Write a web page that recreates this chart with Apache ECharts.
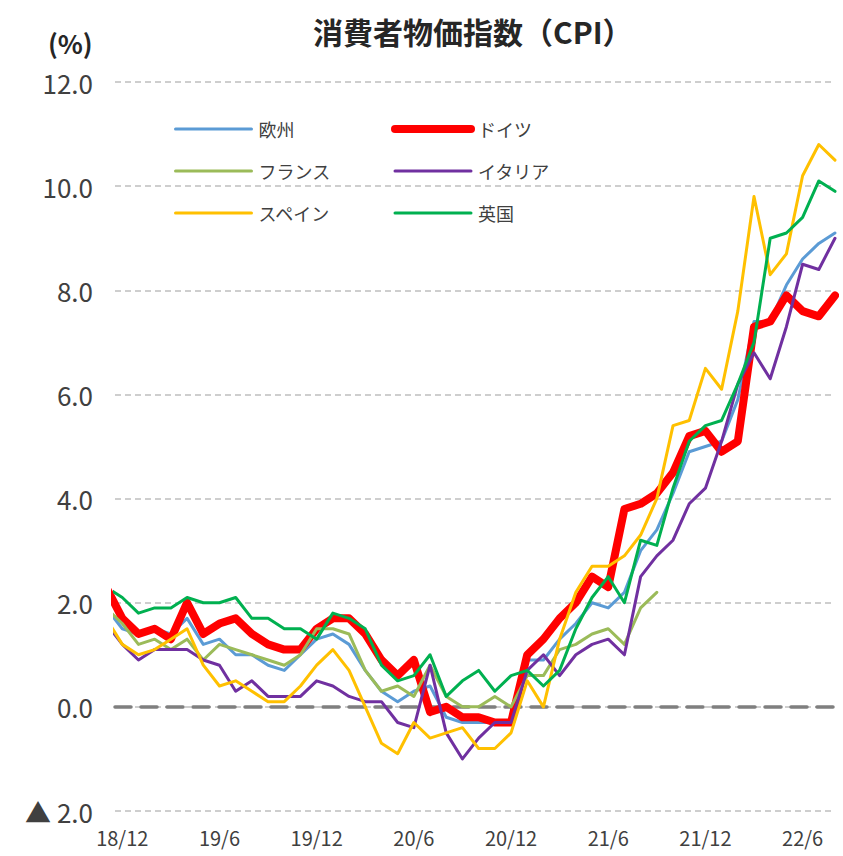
<!DOCTYPE html>
<html lang="ja">
<head>
<meta charset="utf-8">
<title>消費者物価指数（CPI）</title>
<script src="https://cdn.jsdelivr.net/npm/echarts/dist/echarts.min.js"></script>
<style>
  html, body { margin: 0; padding: 0; background: #fff; }
  #chart { width: 843px; height: 856px; }
</style>
</head>
<body>
<div id="chart"></div>
<script>
// 前年同月比（%）、18/11 は左端で切れている
const months = [
  '18/11', '18/12',
  '19/1', '19/2', '19/3', '19/4', '19/5', '19/6', '19/7', '19/8', '19/9', '19/10', '19/11', '19/12',
  '20/1', '20/2', '20/3', '20/4', '20/5', '20/6', '20/7', '20/8', '20/9', '20/10', '20/11', '20/12',
  '21/1', '21/2', '21/3', '21/4', '21/5', '21/6', '21/7', '21/8', '21/9', '21/10', '21/11', '21/12',
  '22/1', '22/2', '22/3', '22/4', '22/5', '22/6', '22/7', '22/8',
]

const euro = [1.9, 1.5,
  1.4, 1.5, 1.4, 1.7, 1.2, 1.3, 1.0, 1.0, 0.8, 0.7, 1.0, 1.3,
  1.4, 1.2, 0.7, 0.3, 0.1, 0.3, 0.4, -0.2, -0.3, -0.3, -0.3, -0.3,
  0.9, 0.9, 1.3, 1.6, 2.0, 1.9, 2.2, 3.0, 3.4, 4.1, 4.9, 5.0,
  5.1, 5.9, 7.4, 7.4, 8.1, 8.6, 8.9, 9.1]
const germany = [2.3, 1.7,
  1.4, 1.5, 1.3, 2.0, 1.4, 1.6, 1.7, 1.4, 1.2, 1.1, 1.1, 1.5,
  1.7, 1.7, 1.4, 0.9, 0.6, 0.9, -0.1, 0.0, -0.2, -0.2, -0.3, -0.3,
  1.0, 1.3, 1.7, 2.0, 2.5, 2.3, 3.8, 3.9, 4.1, 4.5, 5.2, 5.3,
  4.9, 5.1, 7.3, 7.4, 7.9, 7.6, 7.5, 7.9]
const france = [1.9, 1.6,
  1.2, 1.3, 1.1, 1.3, 0.9, 1.2, 1.1, 1.0, 0.9, 0.8, 1.0, 1.5,
  1.5, 1.4, 0.7, 0.3, 0.4, 0.2, 0.8, 0.2, 0.0, 0.0, 0.2, 0.0,
  0.6, 0.6, 1.1, 1.2, 1.4, 1.5, 1.2, 1.9, 2.2, null, null, null,
  null, null, null, null, null, null, null, null]
const italy = [1.6, 1.2,
  0.9, 1.1, 1.1, 1.1, 0.9, 0.8, 0.3, 0.5, 0.2, 0.2, 0.2, 0.5,
  0.4, 0.2, 0.1, 0.1, -0.3, -0.4, 0.8, -0.5, -1.0, -0.6, -0.3, -0.3,
  0.7, 1.0, 0.6, 1.0, 1.2, 1.3, 1.0, 2.5, 2.9, 3.2, 3.9, 4.2,
  5.1, 6.2, 6.8, 6.3, 7.3, 8.5, 8.4, 9.0]
const spain = [1.7, 1.2,
  1.0, 1.1, 1.3, 1.5, 0.8, 0.4, 0.5, 0.3, 0.1, 0.1, 0.4, 0.8,
  1.1, 0.7, 0.0, -0.7, -0.9, -0.3, -0.6, -0.5, -0.4, -0.8, -0.8, -0.5,
  0.5, 0.0, 1.3, 2.2, 2.7, 2.7, 2.9, 3.3, 4.0, 5.4, 5.5, 6.5,
  6.1, 7.6, 9.8, 8.3, 8.7, 10.2, 10.8, 10.5]
const uk = [2.3, 2.1,
  1.8, 1.9, 1.9, 2.1, 2.0, 2.0, 2.1, 1.7, 1.7, 1.5, 1.5, 1.3,
  1.8, 1.7, 1.5, 0.8, 0.5, 0.6, 1.0, 0.2, 0.5, 0.7, 0.3, 0.6,
  0.7, 0.4, 0.7, 1.5, 2.1, 2.5, 2.0, 3.2, 3.1, 4.2, 5.1, 5.4,
  5.5, 6.2, 7.0, 9.0, 9.1, 9.4, 10.1, 9.9]

const yTickLabels = ['▲ 2.0', '0.0', '2.0', '4.0', '6.0', '8.0', '10.0', '12.0']
const yMin = -2, yMax = 12, yStep = 2

const C = { grid: '#bfbfbf', zero: '#7f7f7f', text: '#404040', title: '#262626' }
const FONT = '"Noto Sans CJK JP", "Noto Sans", sans-serif'

const seriesDefs = [
  { name: '欧州',     data: euro,    color: '#5b9bd5', width: 3 },
  { name: 'ドイツ',   data: germany, color: '#ff0000', width: 8 },
  { name: 'フランス', data: france,  color: '#9bbb59', width: 3 },
  { name: 'イタリア', data: italy,   color: '#7030a0', width: 3 },
  { name: 'スペイン', data: spain,   color: '#ffc000', width: 3 },
  { name: '英国',     data: uk,      color: '#00b050', width: 3 },
]

// 半年ごとの目盛り（x/6, x/12）
const labelIdx = months
  .map((m, i) => (m.endsWith('/6') || m.endsWith('/12')) ? i : -1)
  .filter(i => i >= 0)

function legendBlock(names, left) {
  return {
    orient: 'vertical',
    left, top: 115,
    itemWidth: 76, itemHeight: 14, itemGap: 24,
    itemStyle: { opacity: 0 },          // 線だけ、丸マーカーなし
    lineStyle: { width: 'inherit' },    // 系列の線幅をそのまま
    textStyle: { color: C.text, fontSize: 18, fontFamily: FONT, padding: [0, 0, 0, 2] },
    data: names,
  }
}

function buildOption() {
  const xBase = { type: 'value', min: 0.55, max: months.length - 1 }
  return {
    animation: false,
    backgroundColor: '#fff',
    textStyle: { fontFamily: FONT },
    title: [
      {
        text: '消費者物価指数（CPI）', left: 308, top: 11,
        textStyle: { fontSize: 30, fontWeight: 'bold', color: C.title, fontFamily: FONT },
      },
      {
        text: '(%)', left: 43, top: 24,
        textStyle: { fontSize: 26, fontWeight: 'bold', color: C.title, fontFamily: FONT },
      },
    ],
    legend: [
      legendBlock(['欧州', 'フランス', 'スペイン'], 169),
      legendBlock(['ドイツ', 'イタリア', '英国'], 386),
    ],
    grid: { left: 115, right: 8, top: 82, bottom: 45, containLabel: false },
    xAxis: [
      {
        ...xBase,
        axisLine: { show: false, onZero: false },
        axisTick: { show: false },
        splitLine: { show: false },
        axisLabel: {
          customValues: labelIdx,
          formatter: v => months[v],
          color: C.text, fontSize: 20, margin: 16, fontFamily: FONT,
        },
      },
      {
        // 0% の太い破線
        ...xBase,
        axisLine: { show: true, onZero: true, lineStyle: { color: C.zero, width: 3.5, type: [16, 10] } },
        axisTick: { show: false },
        axisLabel: { show: false },
        splitLine: { show: false },
      },
    ],
    yAxis: {
      type: 'value',
      min: yMin, max: yMax, interval: yStep,
      axisLine: { show: false },
      axisTick: { show: false },
      axisLabel: {
        formatter: v => yTickLabels[Math.round((v - yMin) / yStep)],
        color: C.text, fontSize: 26, margin: 22, fontFamily: FONT,
      },
      splitLine: { lineStyle: { color: C.grid, width: 1.5, type: [6, 4] } },
    },
    series: seriesDefs.map(s => ({
      name: s.name,
      type: 'line',
      xAxisIndex: 0,
      data: s.data.map((v, i) => [i, v]),
      symbol: 'none',
      color: s.color,
      lineStyle: { width: s.width, color: s.color, cap: 'round', join: 'round' },
      connectNulls: false,
      clip: true,
    })),
  }
}

const chart = echarts.init(document.getElementById('chart'), null, { renderer: 'svg' })
chart.setOption(buildOption())
</script>
</body>
</html>
